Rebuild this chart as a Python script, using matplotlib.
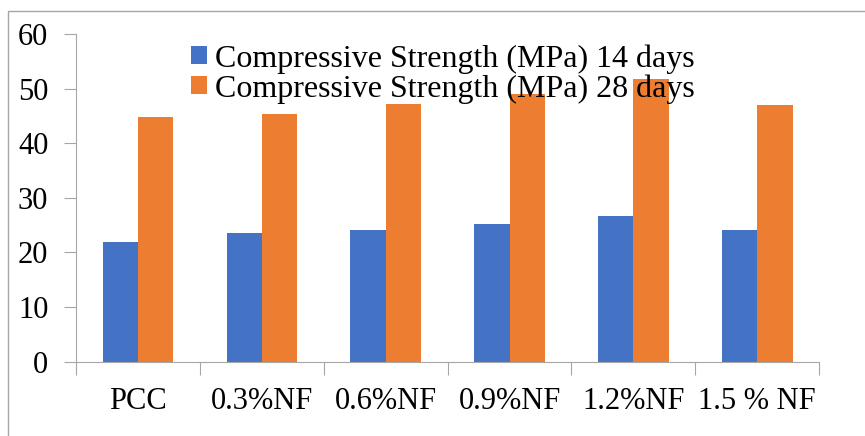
import matplotlib.pyplot as plt
import numpy as np
from matplotlib.patches import Rectangle

# data
categories = ["PCC", "0.3%NF", "0.6%NF", "0.9%NF", "1.2%NF", "1.5 % NF"]
days14 = [22.0, 23.5, 24.2, 25.2, 26.6, 24.2]
days28 = [44.8, 45.3, 47.1, 49.0, 51.8, 47.0]
series_names = ["Compressive Strength (MPa) 14 days",
                "Compressive Strength (MPa) 28 days"]

plt.rcParams["font.family"] = ["Liberation Serif", "DejaVu Serif"]

fig = plt.figure(figsize=(8.65, 4.36), dpi=100)
ax = fig.add_axes([0.0879, 0.1704, 0.947 - 0.0879, 0.922 - 0.1704])

x = np.arange(len(categories))
w = 0.285
ax.bar(x - w / 2, days14, w, color="#4472C4", label=series_names[0])
ax.bar(x + w / 2, days28, w, color="#ED7D31", label=series_names[1])

ax.set_xlim(-0.5, len(categories) - 0.5)
ax.set_ylim(0, 60)
ax.set_yticks(range(0, 61, 10))
ax.set_xticks(np.arange(-0.5, len(categories), 1.0))
ax.set_xticklabels([])
ax.set_xticks(x, minor=True)
ax.set_xticklabels(categories, minor=True)

grey = "#a6a6a6"
for s in ["top", "right"]:
    ax.spines[s].set_visible(False)
for s in ["left", "bottom"]:
    ax.spines[s].set_color(grey)
ax.tick_params(axis="y", length=9, color=grey, labelsize=22, pad=11)
ax.tick_params(axis="x", which="major", length=9, color=grey)
ax.tick_params(axis="x", which="minor", length=0, labelsize=22, pad=18)

ax.legend(loc="upper left", bbox_to_anchor=(191 / 865, 1 - 44 / 436),
          bbox_transform=fig.transFigure, frameon=False, fontsize=23,
          handlelength=0.5, handleheight=0.47, handletextpad=0.25,
          labelspacing=0.02, borderpad=0, borderaxespad=0)

# outer border of the picture
fig.patches.append(Rectangle((8 / 865, -0.1), 1.2, 1.1 - 11 / 436,
                             transform=fig.transFigure, fill=False,
                             edgecolor=grey, linewidth=1))

fig.savefig("out.png", dpi=100)
